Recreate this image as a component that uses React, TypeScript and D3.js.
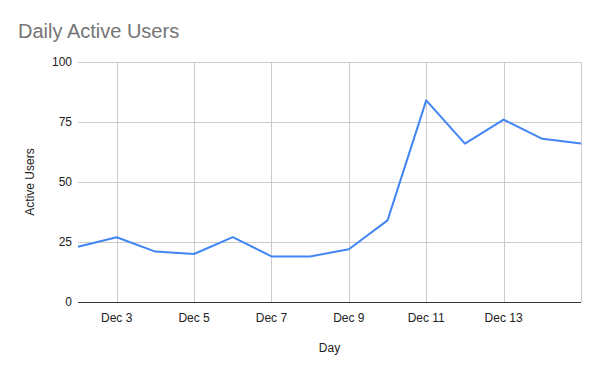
import { useEffect, useRef } from 'react';
import * as d3 from 'd3';

// Daily active users, Dec 2 – Dec 15
const days = ['2023-12-02', '2023-12-03', '2023-12-04', '2023-12-05', '2023-12-06', '2023-12-07', '2023-12-08',
  '2023-12-09', '2023-12-10', '2023-12-11', '2023-12-12', '2023-12-13', '2023-12-14', '2023-12-15'];
const activeUsers = [23, 27, 21, 20, 27, 19, 19, 22, 34, 84, 66, 76, 68, 66];
const yTicks = [0, 25, 50, 75, 100];
const xTickDays = ['2023-12-03', '2023-12-05', '2023-12-07', '2023-12-09', '2023-12-11', '2023-12-13'];

const W = 600;
const H = 371;
const margin = { top: 62, right: 19, bottom: 69, left: 78 };
const FONT = 'Arial, "Liberation Sans", sans-serif';

export default function App() {
  const svgRef = useRef<SVGSVGElement>(null);

  useEffect(() => {
    if (!svgRef.current) return;
    const svg = d3.select(svgRef.current);
    svg.selectAll('*').remove();

    const parse = d3.timeParse('%Y-%m-%d');
    const dates = days.map((d) => parse(d) as Date);
    const tickDates = xTickDays.map((d) => parse(d) as Date);

    const x = d3
      .scaleTime()
      .domain(d3.extent(dates) as [Date, Date])
      .range([margin.left, W - margin.right]);
    const y = d3
      .scaleLinear()
      .domain([0, 100])
      .range([H - margin.bottom, margin.top]);

    svg.append('rect').attr('width', W).attr('height', H).attr('fill', '#ffffff');

    // title
    svg
      .append('text')
      .attr('x', 18)
      .attr('y', 38)
      .attr('font-family', FONT)
      .attr('font-size', 20)
      .attr('fill', '#757575')
      .text('Daily Active Users');

    // horizontal grid
    svg
      .append('g')
      .selectAll('line')
      .data(yTicks.filter((t) => t > 0))
      .join('line')
      .attr('x1', margin.left)
      .attr('x2', W - margin.right)
      .attr('y1', (d) => Math.round(y(d)) + 0.5)
      .attr('y2', (d) => Math.round(y(d)) + 0.5)
      .attr('stroke', '#cccccc')
      .attr('stroke-width', 1);

    // vertical grid at ticks + right edge
    const vLines = [...tickDates.map((d) => x(d)), W - margin.right];
    svg
      .append('g')
      .selectAll('line')
      .data(vLines)
      .join('line')
      .attr('x1', (d) => Math.round(d) + 0.5)
      .attr('x2', (d) => Math.round(d) + 0.5)
      .attr('y1', margin.top)
      .attr('y2', H - margin.bottom)
      .attr('stroke', '#cccccc')
      .attr('stroke-width', 1);

    // y labels
    svg
      .append('g')
      .selectAll('text')
      .data(yTicks)
      .join('text')
      .attr('x', margin.left - 6)
      .attr('y', (d) => y(d) + 4)
      .attr('text-anchor', 'end')
      .attr('font-family', FONT)
      .attr('font-size', 12)
      .attr('fill', '#222222')
      .text((d) => String(d));

    // x labels
    const fmt = d3.timeFormat('%b %-d');
    svg
      .append('g')
      .selectAll('text')
      .data(tickDates)
      .join('text')
      .attr('x', (d) => x(d))
      .attr('y', H - margin.bottom + 20)
      .attr('text-anchor', 'middle')
      .attr('font-family', FONT)
      .attr('font-size', 12)
      .attr('fill', '#222222')
      .text((d) => fmt(d));

    // baseline
    svg
      .append('line')
      .attr('x1', margin.left)
      .attr('x2', W - margin.right)
      .attr('y1', Math.round(y(0)) + 0.5)
      .attr('y2', Math.round(y(0)) + 0.5)
      .attr('stroke', '#333333')
      .attr('stroke-width', 1);

    // line
    const line = d3
      .line<number>()
      .x((_, i) => x(dates[i]))
      .y((d) => y(d));
    svg
      .append('path')
      .datum(activeUsers)
      .attr('d', line)
      .attr('fill', 'none')
      .attr('stroke', '#4285f4')
      .attr('stroke-width', 2)
      .attr('stroke-linejoin', 'round');

    // axis titles
    svg
      .append('text')
      .attr('x', (margin.left + W - margin.right) / 2)
      .attr('y', 352)
      .attr('text-anchor', 'middle')
      .attr('font-family', FONT)
      .attr('font-size', 12)
      .attr('fill', '#222222')
      .text('Day');

    svg
      .append('text')
      .attr('transform', `translate(34,${(margin.top + H - margin.bottom) / 2}) rotate(-90)`)
      .attr('text-anchor', 'middle')
      .attr('font-family', FONT)
      .attr('font-size', 12)
      .attr('fill', '#222222')
      .text('Active Users');
  }, []);

  return (
    <div style={{ position: 'absolute', left: 0, top: 0 }}>
      <svg ref={svgRef} width={W} height={H} style={{ display: 'block' }} />
    </div>
  );
}
